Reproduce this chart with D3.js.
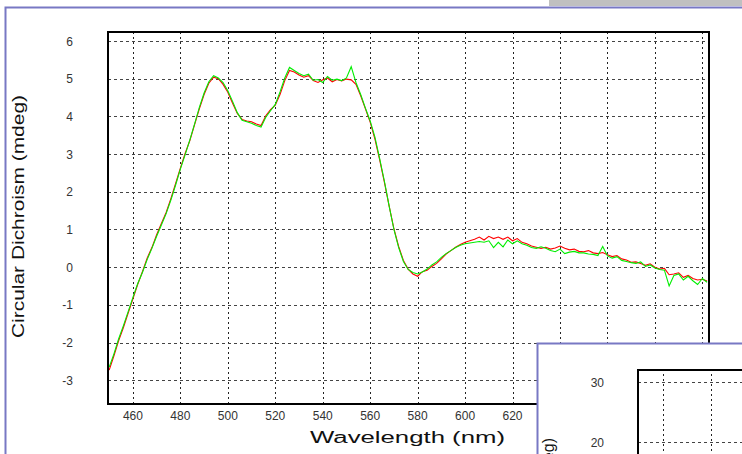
<!DOCTYPE html>
<html><head><meta charset="utf-8">
<script src="https://cdn.jsdelivr.net/npm/d3@7/dist/d3.min.js"></script>
<style>html,body{margin:0;padding:0;background:#fff;overflow:hidden}svg{display:block}</style>
</head><body>
<script>
// ---- data ----
const wavelengths = d3.range(450, 703, 2);
const redCD = [
 -2.73,-2.35,-1.95,-1.60,-1.22,-0.84,-0.46,-0.12,0.24,0.52,
 0.86,1.16,1.45,1.82,2.22,2.63,3.02,3.36,3.78,4.20,
 4.58,4.88,5.04,5.00,4.85,4.64,4.35,4.08,3.92,3.88,
 3.86,3.80,3.76,4.02,4.18,4.30,4.58,4.95,5.22,5.18,
 5.10,5.04,5.08,4.95,4.90,4.97,5.02,4.92,4.98,4.94,
 4.99,4.97,4.85,4.55,4.20,3.85,3.40,2.85,2.25,1.62,
 1.02,0.55,0.18,-0.05,-0.18,-0.24,-0.12,-0.08,0.02,0.10,
 0.22,0.35,0.44,0.53,0.60,0.66,0.70,0.74,0.80,0.72,
 0.82,0.76,0.80,0.74,0.80,0.70,0.76,0.66,0.62,0.56,
 0.53,0.50,0.53,0.48,0.51,0.56,0.50,0.46,0.48,0.42,
 0.41,0.44,0.38,0.36,0.39,0.33,0.28,0.31,0.22,0.19,
 0.13,0.14,0.10,0.05,0.09,0.00,-0.05,-0.03,-0.20,-0.18,
 -0.15,-0.27,-0.22,-0.30,-0.34,-0.32,-0.37
];
const greenCD = [
 -2.65,-2.30,-1.90,-1.55,-1.18,-0.80,-0.44,-0.14,0.20,0.50,
 0.82,1.12,1.42,1.78,2.18,2.60,2.98,3.38,3.80,4.24,
 4.62,4.92,5.08,5.02,4.90,4.68,4.40,4.10,3.90,3.86,
 3.82,3.76,3.72,3.98,4.15,4.32,4.65,5.02,5.30,5.22,
 5.14,5.08,5.12,4.96,4.98,4.90,5.06,4.96,4.99,4.95,
 5.02,5.32,4.90,4.58,4.22,3.88,3.45,2.88,2.28,1.62,
 1.00,0.52,0.15,-0.06,-0.14,-0.18,-0.13,-0.05,0.06,0.14,
 0.26,0.36,0.44,0.52,0.58,0.62,0.64,0.66,0.68,0.66,
 0.70,0.52,0.66,0.54,0.72,0.62,0.70,0.62,0.58,0.52,
 0.50,0.54,0.50,0.44,0.41,0.48,0.36,0.40,0.42,0.38,
 0.38,0.35,0.34,0.31,0.55,0.30,0.24,0.28,0.18,0.15,
 0.12,0.10,0.14,0.02,0.06,-0.02,-0.06,-0.08,-0.50,-0.22,
 -0.18,-0.34,-0.24,-0.36,-0.46,-0.30,-0.40
];
const xTicks = [460,480,500,520,540,560,580,600,620,640,660,680,700];
const xTickLabels = ["460","480","500","520","540","560","580","600","620"];
const yTicks = [-3,-2,-1,0,1,2,3,4,5,6];
const insetYTicks = [20,30];
const insetXTicks = [210,220];
const xTitle = "Wavelength (nm)";
const yTitle = "Circular Dichroism (mdeg)";

// ---- drawing ----
const W = 742, H = 454;
const svg = d3.select("body").append("svg").attr("width", W).attr("height", H);
const font = "'Liberation Sans', Arial, sans-serif";

// window chrome
svg.append("rect").attr("x", 549).attr("y", 0).attr("width", W-549).attr("height", 6).attr("fill", "#c0c0c0");
svg.append("path").attr("d", `M5.5,${H} V7.5 H${W}`).attr("fill","none").attr("stroke","#7878c4").attr("stroke-width",2);

const x = d3.scaleLinear().domain([449.5, 702.8]).range([108, 709]);
const y = d3.scaleLinear().domain([-3.63, 6.24]).range([404, 32]);

const g = svg.append("g");
// grid
g.selectAll("line.vg").data(xTicks).join("line")
  .attr("x1", d => Math.round(x(d))+0.5).attr("x2", d => Math.round(x(d))+0.5)
  .attr("y1", 32).attr("y2", 404)
  .attr("stroke", "#222").attr("stroke-dasharray", "2,3").attr("stroke-width", 1);
g.selectAll("line.hg").data(yTicks).join("line")
  .attr("y1", d => Math.round(y(d))+0.5).attr("y2", d => Math.round(y(d))+0.5)
  .attr("x1", 108).attr("x2", 709)
  .attr("stroke", "#444").attr("stroke-dasharray", "3,3").attr("stroke-width", 1);

// series
const line = d3.line().x((d,i) => x(wavelengths[i])).y(d => y(d));
g.append("path").datum(redCD).attr("d", line).attr("fill","none").attr("stroke","#ff0000").attr("stroke-width",1.1);
g.append("path").datum(greenCD).attr("d", line).attr("fill","none").attr("stroke","#00ee00").attr("stroke-width",1.1);

// frame
g.append("rect").attr("x", 108).attr("y", 32).attr("width", 601).attr("height", 372)
  .attr("fill","none").attr("stroke","#000").attr("stroke-width",2);

// axes labels
g.selectAll("text.xt").data(xTickLabels).join("text")
  .attr("x", d => x(+d)).attr("y", 420).attr("text-anchor","middle")
  .attr("font-family", font).attr("font-size", 12).attr("fill", "#333").text(d => d);
g.selectAll("text.yt").data(yTicks).join("text")
  .attr("x", 73).attr("y", d => y(d)+4.5).attr("text-anchor","end")
  .attr("font-family", font).attr("font-size", 12).attr("fill", "#333").text(d => d);
g.append("text").attr("x", 310).attr("y", 443).attr("textLength", 195).attr("lengthAdjust","spacingAndGlyphs")
  .attr("font-family", font).attr("font-size", 16).attr("fill","#111").text(xTitle);
g.append("text").attr("transform","translate(24,338) rotate(-90)").attr("x",0).attr("y",0)
  .attr("textLength", 243).attr("lengthAdjust","spacingAndGlyphs")
  .attr("font-family", font).attr("font-size", 16).attr("fill","#111").text(yTitle);

// inset window (overlapping second chart)
const ins = svg.append("g");
ins.append("rect").attr("x", 537).attr("y", 343).attr("width", W-537).attr("height", H-343).attr("fill","#fff");
ins.append("path").attr("d", `M537.5,${H} V343.5 H${W}`).attr("fill","none").attr("stroke","#7878c4").attr("stroke-width",2);
const iy = d3.scaleLinear().domain([20, 30]).range([442, 382]);
const ix = d3.scaleLinear().domain([210, 220]).range([663, 711]);
ins.selectAll("line.ivg").data(insetXTicks).join("line")
  .attr("x1", d => Math.round(ix(d))+0.5).attr("x2", d => Math.round(ix(d))+0.5)
  .attr("y1", 369).attr("y2", H)
  .attr("stroke", "#222").attr("stroke-dasharray", "2,3");
ins.selectAll("line.ihg").data(insetYTicks).join("line")
  .attr("y1", d => Math.round(iy(d))+0.5).attr("y2", d => Math.round(iy(d))+0.5)
  .attr("x1", 638).attr("x2", W)
  .attr("stroke", "#444").attr("stroke-dasharray", "3,3");
ins.append("path").attr("d", `M638,${H} V370 H${W}`).attr("fill","none").attr("stroke","#000").attr("stroke-width",2);
ins.selectAll("text.iyt").data(insetYTicks).join("text")
  .attr("x", 604).attr("y", d => iy(d)+4.5).attr("text-anchor","end")
  .attr("font-family", font).attr("font-size", 12).attr("fill", "#333").text(d => d);
ins.append("text").attr("transform","translate(554,438) rotate(-90)").attr("text-anchor","end")
  .attr("font-family", font).attr("font-size", 16).attr("fill","#111").text(yTitle);
</script>
</body></html>
